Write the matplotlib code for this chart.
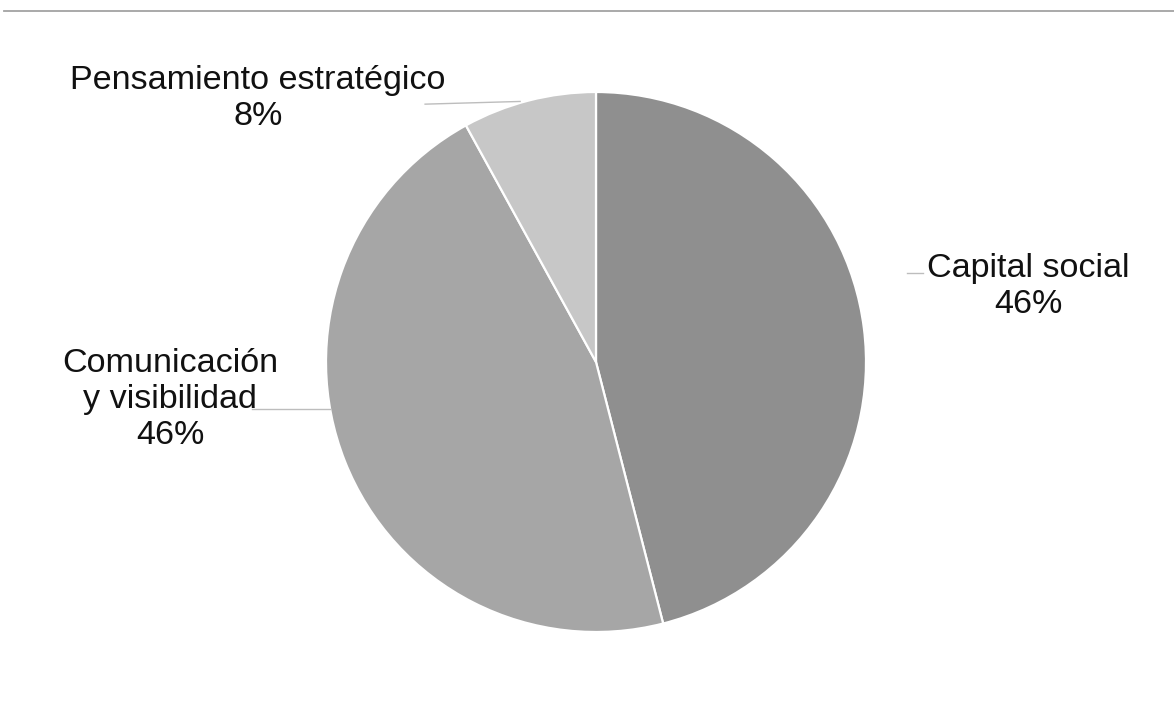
import matplotlib
matplotlib.use("Agg")
import matplotlib.pyplot as plt
from matplotlib.lines import Line2D

# Share of each category (percent)
labels = ["Capital social", "Comunicación\ny visibilidad", "Pensamiento estratégico"]
values = [46, 46, 8]
colors = ["#8f8f8f", "#a6a6a6", "#c7c7c7"]

# label positions and leader lines, in pie-radius units
label_pos = [(1.600, 0.280), (-1.578, -0.140), (-1.252, 0.975)]
leaders = [
    [(1.150, 0.330), (1.212, 0.330)],
    [(-1.274, -0.174), (-0.985, -0.174)],
    [(-0.633, 0.955), (-0.281, 0.965)],
]

plt.rcParams["font.family"] = ["Liberation Sans", "DejaVu Sans"]

fig = plt.figure(figsize=(11.74, 7.10), dpi=100)
ax = fig.add_axes([326 / 1174, 78 / 710, 540 / 1174, 540 / 710])

ax.pie(values, colors=colors, startangle=90, counterclock=False,
       wedgeprops=dict(edgecolor="white", linewidth=1.6))
ax.set_xlim(-1, 1)
ax.set_ylim(-1, 1)
ax.set_aspect("equal")
ax.axis("off")

for lab, v, (x, y) in zip(labels, values, label_pos):
    ax.text(x, y, f"{lab}\n{v:.0f}%", ha="center", va="center",
            fontsize=24.6, color="#111111", linespacing=1.2)

for (x0, y0), (x1, y1) in leaders:
    ax.plot([x0, x1], [y0, y1], color="#bdbdbd", lw=1.0, clip_on=False)

# thin rule across the top
fig.add_artist(Line2D([4 / 1174, 1.0], [1 - 11 / 710, 1 - 11 / 710],
                      transform=fig.transFigure, color="#a3a3a3", lw=1.3))

fig.savefig("out.png", dpi=100, facecolor="white")
